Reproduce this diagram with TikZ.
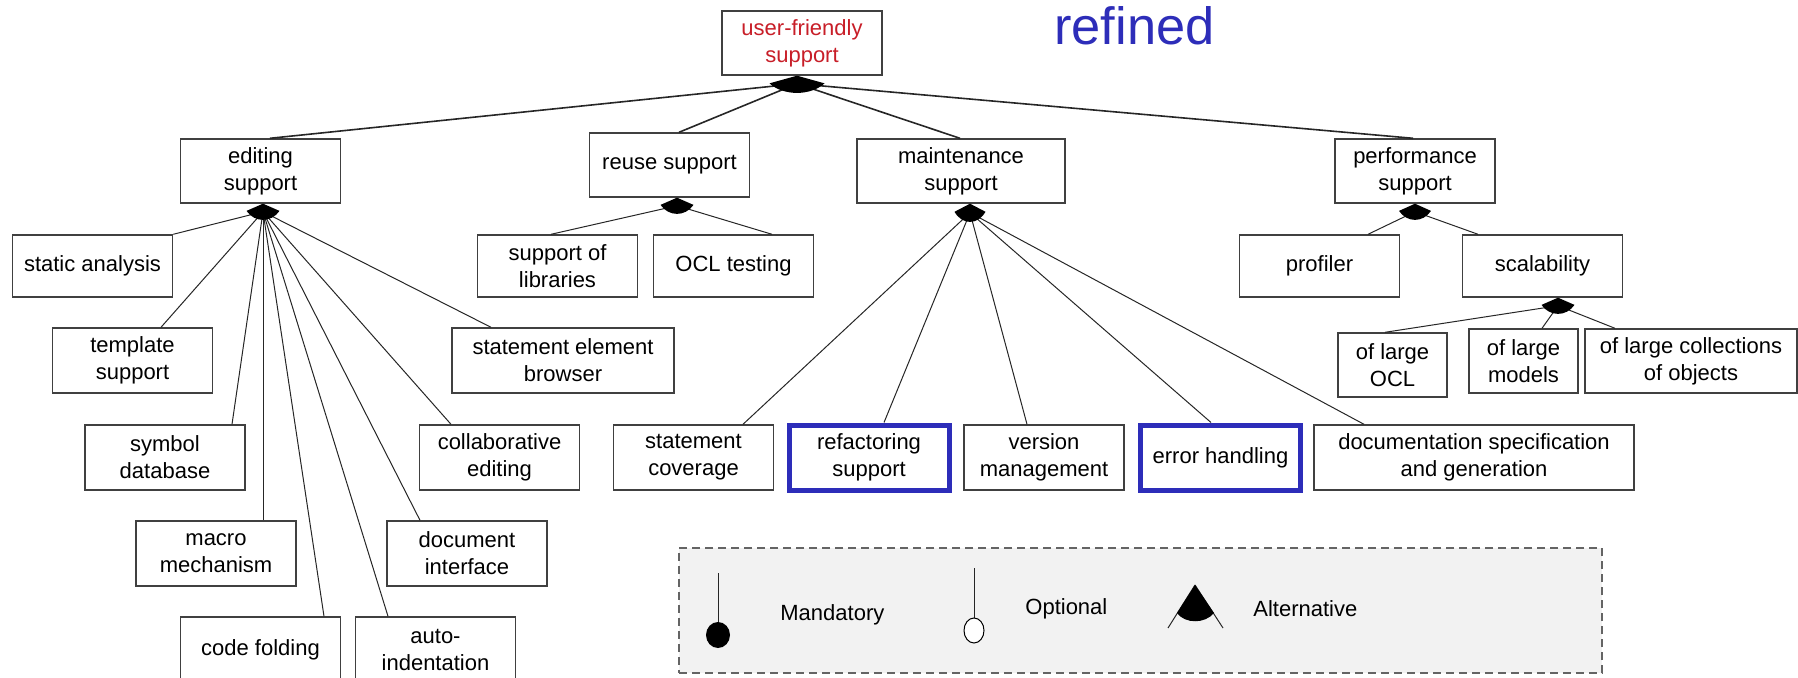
\documentclass[tikz,border=0pt]{standalone}
\usepackage{fontspec}
\setmainfont{Liberation Sans}
\usetikzlibrary{calc}
\definecolor{rootred}{RGB}{200,30,40}
\definecolor{hiblue}{RGB}{45,45,185}
\definecolor{legfill}{RGB}{242,242,242}
\definecolor{leggray}{RGB}{100,100,100}
\newcommand\boxfont{\fontsize{11}{13.5}\selectfont}
\newcommand\featsym[3]{\begin{scope}[shift={(#1)}]\fill[black] (0,0) -- (-#2,0.45*#3) .. controls (-0.5*#2,1.2*#3) and (0.5*#2,1.2*#3) .. (#2,0.45*#3) -- cycle;\end{scope}}
\begin{document}
\begin{tikzpicture}[x=0.5pt,y=-0.5pt,
  fbox/.style={draw=black!75, line width=0.7pt, fill=white, align=center, inner sep=0pt, font=\boxfont, minimum width=80pt, minimum height=32pt},
  hibox/.style={fbox, draw=hiblue, line width=2.5pt},
  conn/.style={draw=black!85, line width=0.5pt},
  topconn/.style={draw=black!85, line width=0.8pt}]
\useasboundingbox (0,0) rectangle (1798,678);

% legend frame
\node[draw=leggray, dash pattern=on 4pt off 2.5pt, line width=0.75pt, fill=legfill, minimum width=461.5pt, minimum height=62.5pt, inner sep=0pt] (legend) at (1140.5,610.5) {};

% boxes
\node[fbox, text=rootred] (root) at (802,43) {user-friendly\\support};
\node[anchor=base west, inner sep=0pt, text=hiblue, font=\fontsize{26.2}{30}\selectfont] (refined) at (1054,45) {refined};
\node[fbox] (edit) at (260.5,171) {editing\\support};
\node[fbox] (reuse) at (669.5,165) {reuse support};
\node[fbox, minimum width=104pt] (maint) at (961,171) {maintenance\\support};
\node[fbox] (perf) at (1415,171) {performance\\support};
\node[fbox, minimum height=31pt] (static) at (92.5,266) {static analysis};
\node[fbox, minimum height=31pt] (libs) at (557.5,266) {support of\\libraries};
\node[fbox, minimum height=31pt] (ocltest) at (733.5,266) {OCL testing};
\node[fbox, minimum height=31pt] (prof) at (1319.5,266) {profiler};
\node[fbox, minimum height=31pt] (scal) at (1542.5,266) {scalability};
\node[fbox, minimum height=32.5pt] (tmpl) at (132.5,360.5) {template\\support};
\node[fbox, minimum height=32.5pt, minimum width=111pt] (browser) at (563,360.5) {statement element\\browser};
\node[fbox, minimum width=54.5pt] (locl) at (1392.5,365) {of large\\OCL};
\node[fbox, minimum width=54.5pt] (lmod) at (1523.5,361) {of large\\models};
\node[fbox, minimum width=106pt] (lcoll) at (1691,361) {of large collections\\of objects};
\node[fbox, minimum height=32.5pt] (symdb) at (165,457.5) {symbol\\database};
\node[fbox, minimum height=32.5pt] (collab) at (499.5,457.5) {collaborative\\editing};
\node[fbox, minimum height=32.5pt] (cov) at (693.5,457.5) {statement\\coverage};
\node[hibox, minimum height=32.5pt] (refac) at (869,457.5) {refactoring\\support};
\node[fbox, minimum height=32.5pt] (vers) at (1044,457.5) {version\\management};
\node[hibox, minimum height=32.5pt] (err) at (1220.5,457.5) {error handling};
\node[fbox, minimum height=32.5pt, minimum width=160pt] (doc) at (1474,457.5) {documentation specification\\and generation};
\node[fbox, minimum height=32.5pt] (macro) at (216,553.5) {macro\\mechanism};
\node[fbox, minimum height=32.5pt] (docif) at (467,553.5) {document\\interface};
\node[fbox, minimum height=32.5pt] (fold) at (260.5,649.5) {code folding};
\node[fbox, minimum height=32.5pt] (autoind) at (435.5,649.5) {auto-\\indentation};

% group symbol positions and hubs
\coordinate (rs) at ($(root.south)+(-5,0)$);   \coordinate (rh) at ($(rs)+(0,8)$);
\coordinate (es) at ($(edit.south)+(2.5,0)$);  \coordinate (eh) at ($(es)+(0,8)$);
\coordinate (us) at ($(reuse.south)+(7.5,0)$); \coordinate (uh) at ($(us)+(0,8)$);
\coordinate (ms) at ($(maint.south)+(9,0)$);   \coordinate (mh) at ($(ms)+(0,9)$);
\coordinate (ps) at ($(perf.south)+(0,0)$);    \coordinate (ph) at ($(ps)+(0,8)$);
\coordinate (ss) at ($(scal.south)+(15.5,0)$); \coordinate (sh) at ($(ss)+(0,8)$);

% connectors
\draw[topconn] (rh) -- ($(edit.north)+(9.5,0)$);
\draw[topconn] (rh) -- ($(reuse.north)+(9.5,0)$);
\draw[topconn] (rh) -- ($(maint.north)+(-1,0)$);
\draw[topconn] (rh) -- ($(perf.north)+(-2,0)$);

\draw[conn] (eh) -- (static.north east);
\draw[conn] (eh) -- ($(tmpl.north)+(28.5,0)$);
\draw[conn] (eh) -- ($(symdb.north)+(67,0)$);
\draw[conn] (eh) -- ($(macro.north)+(47,0)$);
\draw[conn] (eh) -- ($(fold.north)+(63.5,0)$);
\draw[conn] (eh) -- ($(autoind.north)+(-47.5,0)$);
\draw[conn] (eh) -- ($(docif.north)+(-47,0)$);
\draw[conn] (eh) -- ($(collab.north)+(-48.5,0)$);
\draw[conn] (eh) -- ($(browser.north)+(-72,0)$);

\draw[conn] (uh) -- ($(libs.north)+(-6.5,0)$);
\draw[conn] (uh) -- ($(ocltest.north)+(38.5,0)$);

\draw[conn] (mh) -- ($(cov.north)+(49.5,0)$);
\draw[conn] (mh) -- ($(refac.north)+(15,0)$);
\draw[conn] (mh) -- ($(vers.north)+(-17,0)$);
\draw[conn] (mh) -- ($(err.north)+(-9.5,0)$);
\draw[conn] (mh) -- ($(doc.north)+(-110,0)$);

\draw[conn] (ph) -- ($(prof.north)+(48.5,0)$);
\draw[conn] (ph) -- ($(scal.north)+(-64.5,0)$);

\draw[conn] (sh) -- ($(locl.north)+(-7.5,0)$);
\draw[conn] (sh) -- ($(lmod.north)+(18.5,0)$);
\draw[conn] (sh) -- ($(lcoll.north)+(-76,0)$);

% group symbols
\featsym{rs}{27.5}{17}
\featsym{es}{16.5}{16}
\featsym{us}{16.5}{16}
\featsym{ms}{15.5}{18}
\featsym{ps}{16}{16}
\featsym{ss}{16.5}{16}

% legend content
\draw[conn] (718,573) -- (718,623);
\fill[black] (718,635) ellipse [x radius=6pt, y radius=6.5pt];
\node[anchor=west, inner sep=0pt, font=\boxfont] (tmand) at (780,615) {Mandatory};
\draw[conn] (974,568) -- (974,618);
\draw[fill=white, line width=0.5pt] (974,630.5) ellipse [x radius=5pt, y radius=6.25pt];
\node[anchor=west, inner sep=0pt, font=\boxfont] (topt) at (1025,609) {Optional};
\draw[conn] (1195,585) -- (1168,628);
\draw[conn] (1195,585) -- (1223,628);
\fill[black] (1195,585) -- (1177,613) .. controls (1185,624) and (1205,624) .. (1214,613) -- cycle;
\node[anchor=west, inner sep=0pt, font=\boxfont] (talt) at (1253,608.5) {Alternative};
\end{tikzpicture}
\end{document}
